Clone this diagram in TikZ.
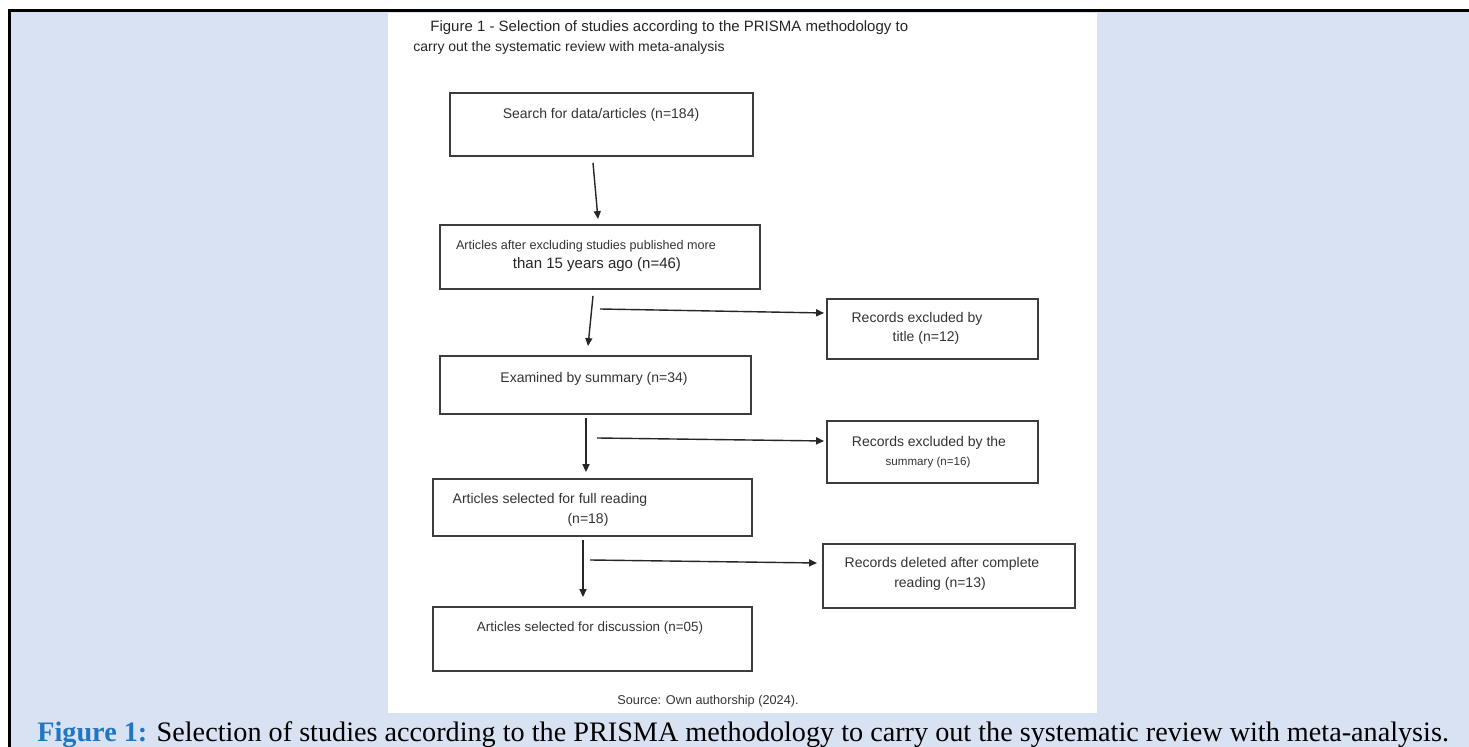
\documentclass[tikz,border=0pt]{standalone}
\usepackage{fontspec}
\setmainfont{Liberation Serif}
\newfontfamily\arialf{Liberation Sans}
\usetikzlibrary{arrows.meta,calc}
\definecolor{bgblue}{HTML}{D9E2F3}
\definecolor{capblue}{HTML}{1F77C4}
\definecolor{boxgray}{HTML}{3C3C3C}
\definecolor{txtgray}{HTML}{333333}
\begin{document}
\begin{tikzpicture}[x=0.5pt,y=-0.5pt,
  box/.style={draw=boxgray, line width=0.9pt, fill=white, inner sep=0pt},
  lbl/.style={inner sep=0pt, text=txtgray, font=\arialf\fontsize{7pt}{8pt}\selectfont},
  arr/.style={draw=black!85, line width=0.7pt, -{Triangle[length=4pt,width=3.5pt]}}]
\useasboundingbox (0,0) rectangle (1469,747);
\fill[bgblue] (9,11) rectangle (1469,747);
\fill[white] (388,13) rectangle (1097,713);
\draw[line width=1.5pt] (9.5,747) -- (9.5,11) -- (1469,11);

% title
\node[lbl, text=black!85, anchor=west, font=\arialf\fontsize{7.5pt}{8.5pt}\selectfont] (t1) at (430,28) {Figure 1 - Selection of studies according to the PRISMA methodology to};
\node[lbl, text=black!85, anchor=west] (t2) at (413,48) {carry out the systematic review with meta-analysis};

% boxes
\node[box, minimum width=151.5pt, minimum height=31.5pt] (search) at (601.5,124.5) {};
\node[box, minimum width=160pt, minimum height=32pt] (after) at (600,257) {};
\node[box, minimum width=105.5pt, minimum height=30pt] (extitle) at (932.5,329) {};
\node[box, minimum width=155.5pt, minimum height=29pt] (exam) at (595.5,385) {};
\node[box, minimum width=105.5pt, minimum height=31pt] (exsum) at (932.5,452) {};
\node[box, minimum width=159.5pt, minimum height=28.5pt] (full) at (592.5,507.5) {};
\node[box, minimum width=126pt, minimum height=32pt] (deleted) at (949,576) {};
\node[box, minimum width=159.5pt, minimum height=32pt] (disc) at (592.5,639) {};

% texts
\node[lbl] (search1) at (601,115) {Search for data/articles (n=184)};
\node[lbl, font=\arialf\fontsize{6.3pt}{7pt}\selectfont] (after1) at (586,246) {Articles after excluding studies published more};
\node[lbl, font=\arialf\fontsize{7.5pt}{8.5pt}\selectfont, text=black!85] (after2) at (597,265) {than 15 years ago (n=46)};
\node[lbl] (extitle1) at (917,319) {Records excluded by};
\node[lbl] (extitle2) at (926,338) {title (n=12)};
\node[lbl] (exam1) at (594,379) {Examined by summary (n=34)};
\node[lbl] (exsum1) at (929,443) {Records excluded by the};
\node[lbl, font=\arialf\fontsize{5.8pt}{7pt}\selectfont] (exsum2) at (928,463) {summary (n=16)};
\node[lbl] (full1) at (550,500) {Articles selected for full reading};
\node[lbl] (full2) at (588,520) {(n=18)};
\node[lbl] (deleted1) at (942,564) {Records deleted after complete};
\node[lbl] (deleted2) at (940,584) {reading (n=13)};
\node[lbl, font=\arialf\fontsize{6.7pt}{8pt}\selectfont] (disc1) at (590,628) {Articles selected for discussion (n=05)};
\node[lbl, font=\arialf\fontsize{6.35pt}{8pt}\selectfont] (source) at (708,701) {Source: Own authorship (2024).};

% vertical arrows
\draw[arr] ($(search.south)+(-8.5,6)$) -- ($(after.north)+(-2,-5)$);
\draw[arr] ($(after.south)+(-7,6)$) -- ($(exam.north)+(-7.5,-9)$);
\draw[arr] ($(exam.south)+(-9.5,3)$) -- ($(full.north)+(-6.5,-6)$);
\draw[arr] ($(full.south)+(-9.5,3)$) -- ($(disc.north)+(-9.5,-9)$);

% side arrows
\coordinate (h1) at (600,309);
\coordinate (h2) at (597,438);
\coordinate (h3) at (590,560);
\draw[arr] (h1) -- ($(extitle.west)+(-2,-16)$);
\draw[arr] (h2) -- ($(exsum.west)+(-2,-11)$);
\draw[arr] (h3) -- ($(deleted.west)+(-5,-13)$);

% caption
\node[anchor=base west, inner sep=0pt] (cap) at (37,742) {\fontsize{14.1pt}{16pt}\selectfont\textcolor{capblue}{\textbf{Figure 1:}} Selection of studies according to the PRISMA methodology to carry out the systematic review with meta-analysis.};
\end{tikzpicture}
\end{document}
